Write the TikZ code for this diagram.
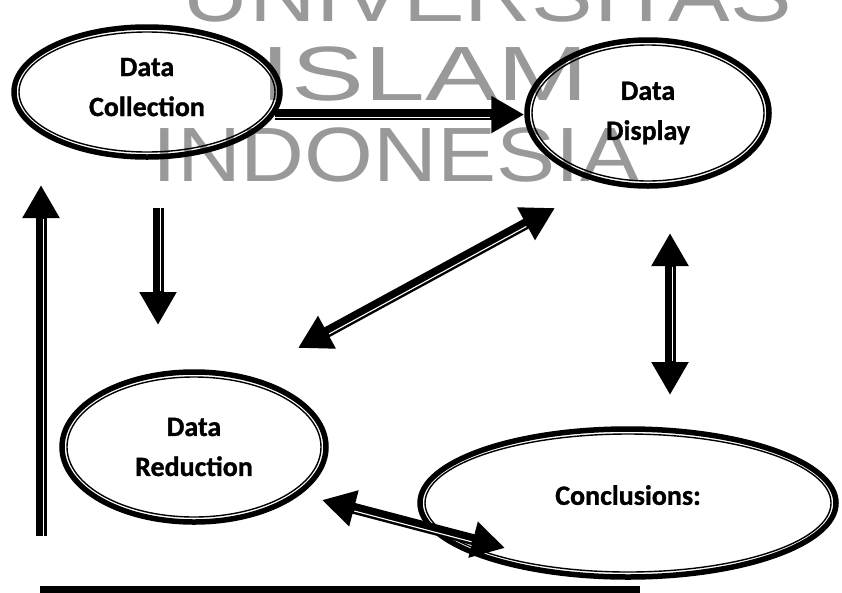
\documentclass[tikz,border=0pt]{standalone}
\usepackage{fontspec}
\setmainfont{Carlito}
\newfontfamily\stagefont{Carlito Bold}[FakeBold=1]
\newfontfamily\markfont{Liberation Sans}
\usetikzlibrary{arrows.meta,shapes.geometric}
\tikzstyle{stage} = [ellipse,draw,line width=5.5pt,inner sep=0pt,align=center,font=\stagefont\fontsize{28}{40}\selectfont]
\tikzstyle{stage ring} = [line width=1.4pt]
\tikzstyle{watermark} = [text=black!40,font=\markfont\fontsize{77}{77}\selectfont,anchor=base,inner sep=0pt]
\tikzset{
  flow/.style={line width=11pt,-{Triangle[length=33pt,width=35pt]},
    postaction={draw=white,line width=1.1pt,-,shorten >=34pt,transform canvas={shift={(#1)}}}},
  flow both/.style={line width=11pt,{Triangle[length=33pt,width=35pt]}-{Triangle[length=33pt,width=35pt]},
    postaction={draw=white,line width=1.1pt,-,shorten >=34pt,shorten <=34pt,transform canvas={shift={(#1)}}}}
}
\newcommand{\stage}[6][]{
 \node[stage,minimum width=#4,minimum height=#5,#1] (#2) at (#3) {#6};
 \draw[stage ring] (#2.center) ellipse [x radius=#4/2-5, y radius=#5/2-5];
}

\begin{document}
\begin{tikzpicture}[x=1pt,y=-1pt]
    \useasboundingbox (0,0) rectangle (842,592);
    \clip (0,0) rectangle (842,592);

    % watermark
    \node[watermark] (wm univ) at (487,21) {\scalebox{1.2}[1]{UNIVERSITAS}};
    \node[watermark] (wm islam) at (425,100) {\scalebox{1.42}[1]{ISLAM}};
    \node[watermark] (wm indo) at (396,181) {\scalebox{1.15}[1]{INDONESIA}};

    \stage[text depth=10pt]{collect}{147,92}{266}{130}{Data\\Collection}
    \stage{display}{648,113}{242}{146}{Data\\Display}
    \stage{reduce}{194,447}{264}{150}{Data\\Reduction}
    \stage[text depth=16pt]{conclude}{628,503}{416}{148}{Conclusions:}

    \coordinate (down top) at (158,208);
    \coordinate (down tip) at (158,325);
    \coordinate (diag low) at (298,348);
    \coordinate (diag high) at (555,208);
    \coordinate (vert top) at (670,233);
    \coordinate (vert low) at (670,395);
    \coordinate (base left) at (322,500);
    \coordinate (base right) at (505,548);
    \coordinate (back foot) at (41,536);
    \coordinate (back tip) at (41,185);
    \coordinate (rule left) at (40,589);
    \coordinate (rule right) at (640,589);

    \draw[flow={0,2.5}] (collect.-10) -- (collect.-10 -| display.west);
    \draw[flow={2.5,0}] (down top) -- (down tip);
    \draw[flow both={1.2,2.2}] (diag low) -- (diag high);
    \draw[flow both={2.5,0}] (vert top) -- (vert low);
    \draw[flow both={-0.6,2.4}] (base left) -- (base right);
    \draw[flow={2.5,0}] (back foot) -- (back tip);

    % bottom rule
    \draw[line width=7pt] (rule left) -- (rule right);
\end{tikzpicture}
\end{document}
